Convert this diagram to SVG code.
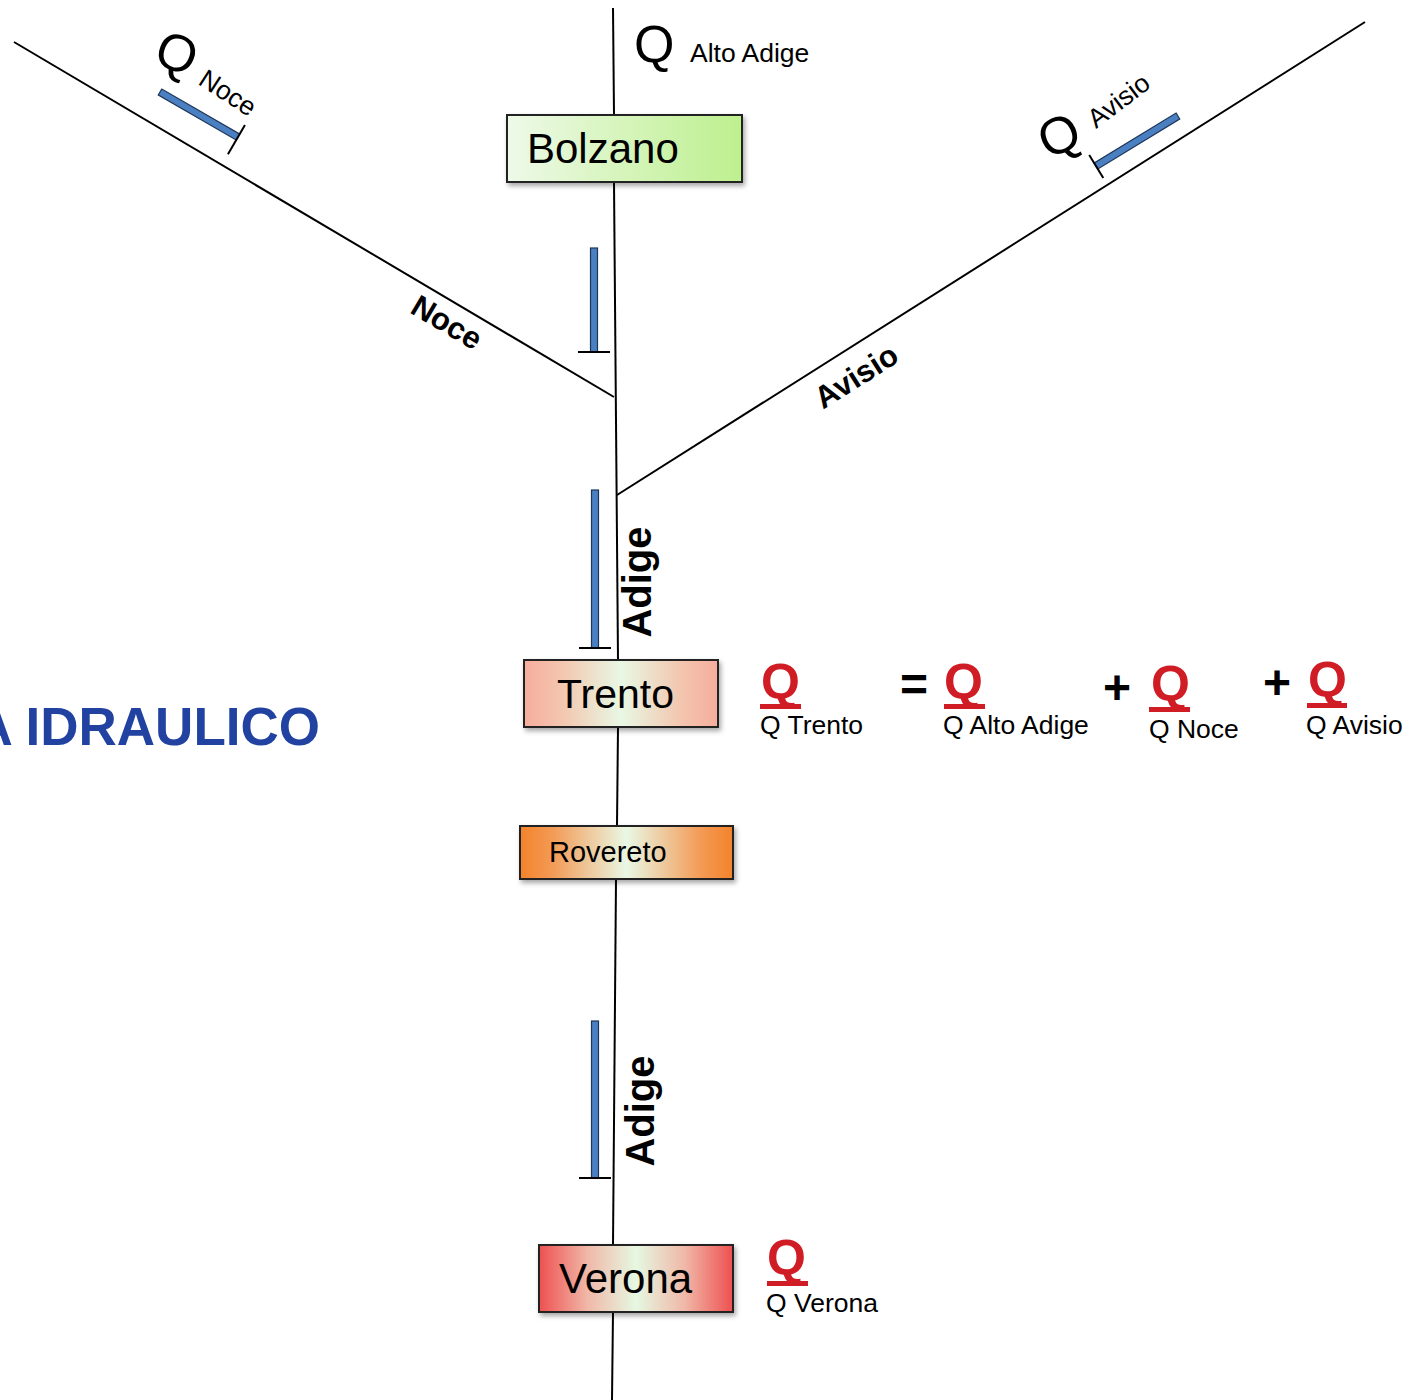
<svg xmlns="http://www.w3.org/2000/svg" width="1418" height="1400" viewBox="0 0 1418 1400">
  <defs>
    <linearGradient id="gBolzano" x1="0" y1="0" x2="1" y2="0">
      <stop offset="0" stop-color="#eef9e8"/>
      <stop offset="1" stop-color="#bdf08e"/>
    </linearGradient>
    <linearGradient id="gTrento" x1="0" y1="0" x2="1" y2="0">
      <stop offset="0" stop-color="#f6ad9c"/>
      <stop offset="0.2" stop-color="#f3c7b0"/>
      <stop offset="0.5" stop-color="#e8f8e4"/>
      <stop offset="0.8" stop-color="#f3c7b0"/>
      <stop offset="1" stop-color="#f6ad9c"/>
    </linearGradient>
    <linearGradient id="gRovereto" x1="0" y1="0" x2="1" y2="0">
      <stop offset="0" stop-color="#f3832a"/>
      <stop offset="0.15" stop-color="#f39a55"/>
      <stop offset="0.5" stop-color="#e9f8e4"/>
      <stop offset="0.85" stop-color="#f39a55"/>
      <stop offset="1" stop-color="#f3832a"/>
    </linearGradient>
    <linearGradient id="gVerona" x1="0" y1="0" x2="1" y2="0">
      <stop offset="0" stop-color="#ee5050"/>
      <stop offset="0.25" stop-color="#f0b8a8"/>
      <stop offset="0.5" stop-color="#e6f8e2"/>
      <stop offset="0.75" stop-color="#f0b8a8"/>
      <stop offset="1" stop-color="#ee5050"/>
    </linearGradient>
    <filter id="shadow" x="-10%" y="-20%" width="130%" height="150%">
      <feDropShadow dx="2" dy="3" stdDeviation="2.5" flood-color="#000" flood-opacity="0.35"/>
    </filter>
  </defs>
  <style>
    .river { stroke: #000; stroke-width: 2; fill: none; }
    .box { stroke: #222; stroke-width: 2; filter: url(#shadow); }
    .city { font-family: "Liberation Sans", Arial, sans-serif; fill: #000; }
    .flow { fill: #4a7fc1; stroke: #1d3557; stroke-width: 1.2; }
    .tick { stroke: #000; stroke-width: 2; }
    .lbl { font-family: "Liberation Sans", Arial, sans-serif; font-size: 26.5px; fill: #000; }
    .bigq { font-family: "Liberation Sans", Arial, sans-serif; font-size: 52px; fill: #000; }
    .rname { font-family: "Liberation Sans", Arial, sans-serif; font-weight: bold; fill: #000; }
    .redq { font-family: "Liberation Sans", Arial, sans-serif; font-weight: bold; font-size: 50px; fill: #d01c24; }
    .uline { fill: #d01c24; }
    .op { font-family: "Liberation Sans", Arial, sans-serif; font-weight: bold; font-size: 48px; fill: #000; }
  </style>

  <!-- river network -->
  <g id="connectors">
    <line class="river" x1="613" y1="8" x2="614" y2="115"/>
    <line class="river" x1="614" y1="182" x2="618" y2="660"/>
    <line class="river" x1="618" y1="727" x2="617" y2="826"/>
    <line class="river" x1="616" y1="879" x2="613" y2="1245"/>
    <line class="river" x1="613" y1="1312" x2="612" y2="1400"/>
    <line class="river" x1="14" y1="42" x2="614" y2="397"/>
    <line class="river" x1="1365" y1="22" x2="617" y2="495"/>
  </g>

  <!-- flow direction bars -->
  <g id="flow-arrows">
    <rect class="flow" x="590.5" y="248" width="7" height="104"/>
    <line class="tick" x1="578" y1="352" x2="610" y2="352"/>
    <rect class="flow" x="591.5" y="490" width="7" height="158"/>
    <line class="tick" x1="579" y1="648" x2="611" y2="648"/>
    <rect class="flow" x="591.5" y="1021" width="7" height="157"/>
    <line class="tick" x1="579" y1="1178" x2="611" y2="1178"/>
    <g transform="translate(160,92) rotate(30)">
      <rect class="flow" x="0" y="-3.5" width="90" height="7"/>
      <line class="tick" x1="90" y1="-14" x2="90" y2="20"/>
    </g>
    <g transform="translate(1096,166) rotate(-31.4)">
      <rect class="flow" x="0" y="-3.5" width="96" height="7"/>
      <line class="tick" x1="0" y1="-13" x2="0" y2="14"/>
    </g>
  </g>

  <!-- river names -->
  <g id="river-labels">
    <text class="rname" font-size="31" text-anchor="middle" transform="translate(447,322) rotate(30.6)" y="11">Noce</text>
    <text class="rname" font-size="31" text-anchor="middle" transform="translate(856,376) rotate(-32.3)" y="11">Avisio</text>
    <text class="rname" font-size="40" text-anchor="middle" transform="translate(637,582) rotate(-90)" y="14">Adige</text>
    <text class="rname" font-size="40" text-anchor="middle" transform="translate(640,1111) rotate(-90)" y="14">Adige</text>
  </g>

  <!-- inflow labels -->
  <g id="inflow-labels">
    <text class="bigq" x="634" y="62">Q</text>
    <text class="lbl" x="690" y="62">Alto Adige</text>
    <text class="bigq" text-anchor="middle" transform="translate(177,53) rotate(22)" y="18">Q</text>
    <text class="lbl" transform="translate(202,76) rotate(33)" y="9">Noce</text>
    <text class="bigq" text-anchor="middle" transform="translate(1059,135) rotate(-24)" y="18">Q</text>
    <text class="lbl" transform="translate(1096,129) rotate(-37)" y="0">Avisio</text>
  </g>

  <!-- cities -->
  <g id="node-bolzano">
    <rect class="box" x="507" y="115" width="235" height="67" fill="url(#gBolzano)"/>
    <text class="city" x="527" y="163" font-size="42">Bolzano</text>
  </g>
  <g id="node-trento">
    <rect class="box" x="524" y="660" width="194" height="67" fill="url(#gTrento)"/>
    <text class="city" x="557" y="708" font-size="41">Trento</text>
  </g>
  <g id="node-rovereto">
    <rect class="box" x="520" y="826" width="213" height="53" fill="url(#gRovereto)"/>
    <text class="city" x="549" y="862" font-size="29">Rovereto</text>
  </g>
  <g id="node-verona">
    <rect class="box" x="539" y="1245" width="194" height="67" fill="url(#gVerona)"/>
    <text class="city" x="559" y="1293" font-size="42">Verona</text>
  </g>

  <!-- mass balance at Trento -->
  <g id="equation">
    <text class="redq" x="761" y="699">Q</text>
    <rect class="uline" x="760" y="704" width="41" height="5"/>
    <text class="lbl" x="760" y="734">Q Trento</text>
    <text class="op" x="900" y="701">=</text>
    <text class="redq" x="944" y="699">Q</text>
    <rect class="uline" x="944" y="704" width="41" height="5"/>
    <text class="lbl" x="943" y="734">Q Alto Adige</text>
    <text class="op" x="1103" y="704">+</text>
    <text class="redq" x="1151" y="701">Q</text>
    <rect class="uline" x="1149" y="707" width="41" height="5"/>
    <text class="lbl" x="1149" y="738">Q Noce</text>
    <text class="op" x="1263" y="699">+</text>
    <text class="redq" x="1308" y="697">Q</text>
    <rect class="uline" x="1307" y="703" width="40" height="5"/>
    <text class="lbl" x="1306" y="734">Q Avisio</text>
  </g>

  <g id="verona-flow">
    <text class="redq" x="767" y="1275">Q</text>
    <rect class="uline" x="767" y="1281" width="41" height="5"/>
    <text class="lbl" x="766" y="1312">Q Verona</text>
  </g>

  <!-- title, running off the left edge -->
  <text x="320" y="745" text-anchor="end" font-family="Liberation Sans, Arial, sans-serif" font-weight="bold" font-size="53" fill="#2142a0">A IDRAULICO</text>
</svg>
